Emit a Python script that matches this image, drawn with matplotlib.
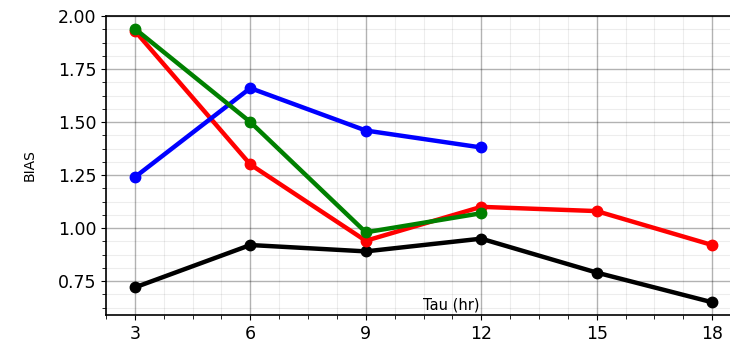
import matplotlib
matplotlib.use("Agg")
import matplotlib.pyplot as plt
from matplotlib.ticker import MultipleLocator

tau = [3, 6, 9, 12, 15, 18]
blue_vals = [1.24, 1.66, 1.46, 1.38]
green_vals = [1.94, 1.50, 0.98, 1.07]
red_vals = [1.93, 1.30, 0.94, 1.10, 1.08, 0.92]
black_vals = [0.72, 0.92, 0.89, 0.95, 0.79, 0.65]

fig = plt.figure(figsize=(7.30, 3.48), dpi=100)
ax = fig.add_axes([106/730, 1 - 315/348, (741 - 106)/730, (315 - 16)/348])

for vals, c in [(black_vals, "black"), (red_vals, "red"), (blue_vals, "blue"), (green_vals, "green")]:
    ax.plot(tau[:len(vals)], vals, color=c, lw=3.2, marker="o", ms=7.5)

ax.set_xlim(2.25, 18.75)
ax.set_ylim(0.59, 2.0)
ax.set_xticks(tau)
ax.set_yticks([0.75, 1.0, 1.25, 1.5, 1.75, 2.0])
ax.xaxis.set_minor_locator(MultipleLocator(0.75))
ax.yaxis.set_minor_locator(MultipleLocator(0.0625))
ax.grid(which="minor", color="black", alpha=0.07, lw=0.8)
ax.grid(which="major", color="black", alpha=0.3, lw=1.0)
ax.set_axisbelow(True)
ax.tick_params(labelsize=12.5)
ax.tick_params(which="minor", length=3)
ax.set_ylabel("BIAS", fontsize=10, labelpad=15)
ax.text(12 - 0.05, 0.603, "Tau (hr)", ha="right", va="bottom", fontsize=10.5)
for s in ax.spines.values():
    s.set_linewidth(1.2)

fig.savefig("out.png", dpi=100)
